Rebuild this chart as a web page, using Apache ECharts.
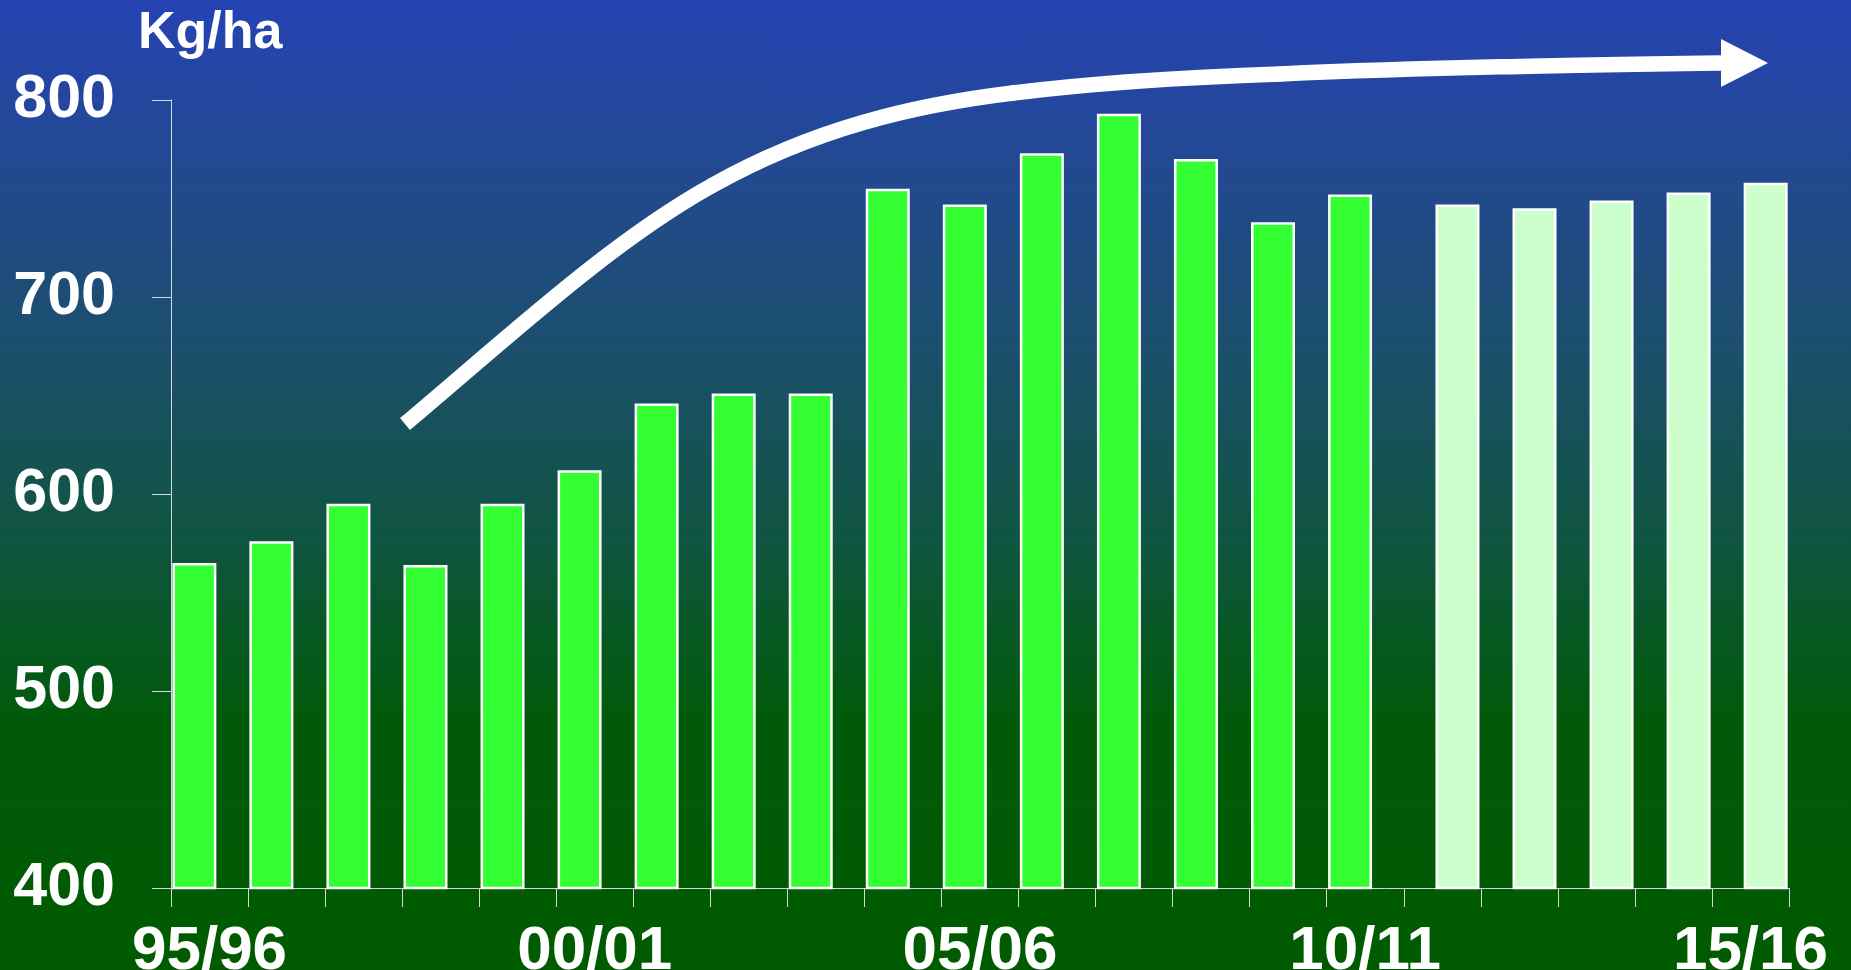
<!DOCTYPE html>
<html>
<head>
<meta charset="utf-8">
<script src="https://cdn.jsdelivr.net/npm/echarts@6/dist/echarts.min.js"></script>
<style>
html,body{margin:0;padding:0;width:1851px;height:970px;overflow:hidden;
background:linear-gradient(to bottom,#2643b3 0%,#22498f 18%,#1b4f6c 36%,#0f5540 56%,#015a0a 74%,#005b00 100%);}
#chart{width:1851px;height:970px;}
</style>
</head>
<body>
<div id="chart"></div>
<script>
const categories = ["95/96","96/97","97/98","98/99","99/00","00/01","01/02","02/03","03/04","04/05",
  "05/06","06/07","07/08","08/09","09/10","10/11","11/12","12/13","13/14","14/15","15/16"];
const actualValues = [565, 576, 595, 564, 595, 612, 646, 651, 651, 755, 747, 773, 793, 770, 738, 752];
const forecastValues = [747, 745, 749, 753, 758];
const yTicks = [400, 500, 600, 700, 800];
const unitLabel = "Kg/ha";

const actualSeries = categories.map((c, i) => i < actualValues.length ? actualValues[i] : null);
const forecastSeries = categories.map((c, i) => i >= actualValues.length ? forecastValues[i - actualValues.length] : null);

const font = '"Liberation Sans", Arial, sans-serif';
const chart = echarts.init(document.getElementById('chart'));

// decorative trend arrow: cubic segments [x1,y1,cp1x,cp1y,cp2x,cp2y,x2,y2]
const arrowSegs = [
  [405,424, 508,337.5, 610,242, 713,185],
  [713,185, 813,129, 913,105, 1013,93],
  [1013,93, 1102,82, 1191,77, 1280,74],
  [1280,74, 1427,67.4, 1575,65.2, 1722,63]
];
const arrowGraphics = arrowSegs.map((s, i) => ({
  type: 'bezierCurve', z: 100,
  shape: {x1: s[0], y1: s[1], cpx1: s[2], cpy1: s[3], cpx2: s[4], cpy2: s[5], x2: s[6], y2: s[7]},
  style: {stroke: '#ffffff', lineWidth: 15.5, fill: null, lineCap: i === 0 ? 'butt' : 'round'}
}));
arrowGraphics.push({type: 'polygon', z: 100, shape: {points: [[1721,39],[1768,63],[1721,87]]},
  style: {fill: '#ffffff'}});

chart.setOption({
  backgroundColor: 'transparent',
  animation: false,
  title: {
    text: unitLabel, left: 138, top: 8, padding: 0,
    textStyle: {color: '#ffffff', fontSize: 52, fontWeight: 'bold', fontFamily: font}
  },
  grid: {left: 171, right: 62, top: 100, bottom: 82, containLabel: false, outerBoundsMode: 'none'},
  xAxis: {
    type: 'category',
    data: categories,
    axisLine: {show: true, lineStyle: {color: '#d8d8d8', width: 1}},
    axisTick: {show: true, interval: 0, length: 19, lineStyle: {color: '#d8d8d8', width: 1}},
    axisLabel: {interval: 4, margin: 33, color: '#ffffff', fontSize: 62, fontWeight: 'bold', fontFamily: font},
    splitLine: {show: false}
  },
  yAxis: {
    type: 'value',
    min: yTicks[0], max: yTicks[yTicks.length - 1], interval: 100,
    axisLine: {show: true, lineStyle: {color: '#d8d8d8', width: 1}},
    axisTick: {show: true, length: 19, lineStyle: {color: '#d8d8d8', width: 1}},
    axisLabel: {margin: 56, color: '#ffffff', fontSize: 61, fontWeight: 'bold', fontFamily: font},
    splitLine: {show: false}
  },
  series: [
    {
      name: 'actual', type: 'bar', data: actualSeries, barWidth: 44,
      itemStyle: {color: '#33ff33', borderColor: '#ffffff', borderWidth: 2.5}
    },
    {
      name: 'forecast', type: 'bar', data: forecastSeries, barWidth: 44, barGap: '-31%',
      itemStyle: {color: '#ccffcc', borderColor: '#ffffff', borderWidth: 2.5}
    }
  ],
  graphic: arrowGraphics
});
</script>
</body>
</html>
